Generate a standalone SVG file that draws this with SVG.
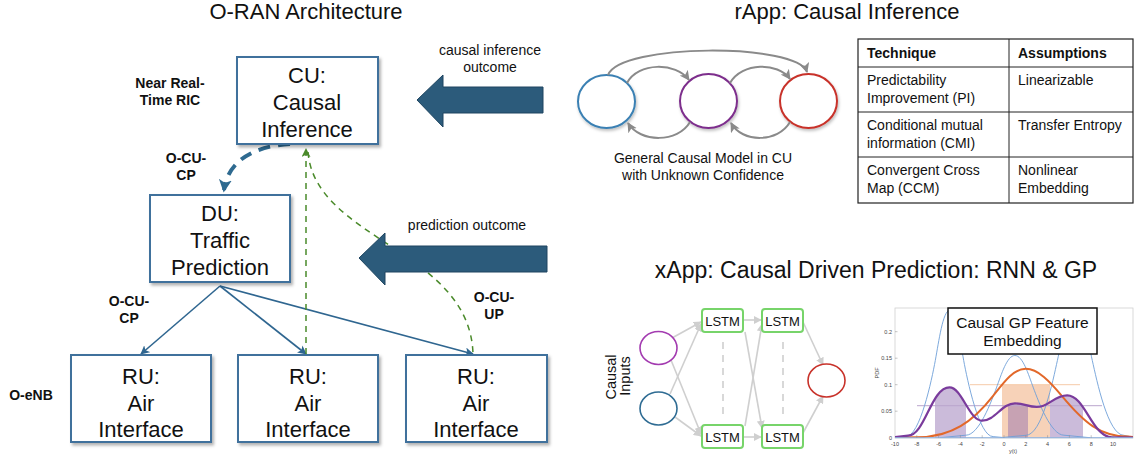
<svg xmlns="http://www.w3.org/2000/svg" width="1135" height="456" viewBox="0 0 1135 456">
<style>
text{font-family:"Liberation Sans",Arial,sans-serif;fill:#111}
.title{font-size:22px;text-anchor:middle}
.box{fill:#fff;stroke:#41719c;stroke-width:2}
.bt{font-size:22px;text-anchor:middle}
.lab{font-size:14px;font-weight:bold;text-anchor:middle}
.sm{font-size:14px;text-anchor:middle}
.tb{font-size:14px}
.tbh{font-size:14px;font-weight:bold}
.big{fill:#2c5b7b;stroke:#1e4560;stroke-width:1}
.conn{fill:none;stroke:#2f6690;stroke-width:1.6}
.gd{fill:none;stroke:#4a8a2a;stroke-width:1.5;stroke-dasharray:6 5}
.gr{fill:none;stroke:#8a8a8a;stroke-width:2}
.lt{fill:none;stroke:#cfcfcf;stroke-width:1.6}
.lstm{fill:#fff;stroke:#77d46a;stroke-width:2}
.lstmt{font-size:13px;text-anchor:middle}
.tick{font-size:5.5px;fill:#444}
</style>
<defs>
<filter id="sh" x="-10%" y="-10%" width="130%" height="130%"><feDropShadow dx="2" dy="2.5" stdDeviation="1.5" flood-color="#000" flood-opacity="0.3"/></filter>
<filter id="sh2" x="-20%" y="-20%" width="150%" height="150%"><feDropShadow dx="1" dy="2" stdDeviation="1.5" flood-color="#000" flood-opacity="0.25"/></filter>
<marker id="aB" viewBox="0 0 10 10" refX="9" refY="5" markerWidth="9" markerHeight="9" markerUnits="userSpaceOnUse" orient="auto"><path d="M0,0 L10,5 L0,10 L2.5,5 z" fill="#2f6690"/></marker>
<marker id="aBD" viewBox="0 0 10 10" refX="8" refY="5" markerWidth="13" markerHeight="13" markerUnits="userSpaceOnUse" orient="auto"><path d="M0,0 L10,5 L0,10 L2.5,5 z" fill="#2e6a90"/></marker>
<marker id="aG" viewBox="0 0 10 10" refX="9" refY="5" markerWidth="9" markerHeight="9" markerUnits="userSpaceOnUse" orient="auto"><path d="M0,0 L10,5 L0,10 L2.5,5 z" fill="#4a8a2a"/></marker>
<marker id="aY" viewBox="0 0 10 10" refX="9" refY="5" markerWidth="10" markerHeight="10" markerUnits="userSpaceOnUse" orient="auto"><path d="M0,0 L10,5 L0,10 L2.5,5 z" fill="#8a8a8a"/></marker>
<marker id="aL" viewBox="0 0 10 10" refX="9" refY="5" markerWidth="8" markerHeight="8" markerUnits="userSpaceOnUse" orient="auto"><path d="M0,0 L10,5 L0,10 z" fill="#cfcfcf"/></marker>
<clipPath id="plot"><rect x="895" y="308" width="238" height="130"/></clipPath>
<clipPath id="purpArea"><path d="M895,437.7 L895,437.2 L908,435.6 C925,435.6 931,387.4 949.5,387.4 C962,387.4 969,420.7 982.2,420.7 C995,420.7 1002,403.3 1014.9,403.3 C1024,403.3 1028,407 1036.7,407 C1049,407 1054,395.3 1067.2,395.3 C1085,395.3 1092,437 1112,437.4 L1134,437.7 Z"/></clipPath>
</defs>

<!-- Titles -->
<text class="title" x="306" y="19">O-RAN Architecture</text>
<text class="title" x="847" y="19">rApp: Causal Inference</text>
<text class="title" x="876" y="278" style="font-size:23px">xApp: Causal Driven Prediction: RNN &amp; GP</text>

<!-- Side labels -->
<g id="labels">
<text class="lab" x="170" y="88">Near Real-</text>
<text class="lab" x="170" y="105">Time RIC</text>
<text class="lab" x="186" y="163">O-CU-</text>
<text class="lab" x="186" y="180">CP</text>
<text class="lab" x="129" y="306">O-CU-</text>
<text class="lab" x="129" y="323">CP</text>
<text class="lab" x="494" y="302">O-CU-</text>
<text class="lab" x="494" y="319">UP</text>
<text class="lab" x="31" y="400">O-eNB</text>
</g>

<!-- Connectors -->
<g id="connectors">
<path class="conn" d="M220,286 L141,354" marker-end="url(#aB)"/>
<path class="conn" d="M220,286 L306,354" marker-end="url(#aB)"/>
<path class="conn" d="M220,286 L473,354" marker-end="url(#aB)"/>
<path d="M290,144 C255,146 228,160 224,190" fill="none" stroke="#2e6a90" stroke-width="4" stroke-dasharray="12 8" marker-end="url(#aBD)"/>
<path class="gd" d="M306,354 L306,149" marker-end="url(#aG)"/>
<path class="gd" d="M308,152 C315,240 470,250 473,354"/>
</g>

<!-- Big arrows -->
<g id="arrow-causal">
<polygon class="big" points="417,100 443,75 443,87 543,87 543,113 443,113 443,127"/>
<text class="sm" x="490" y="55">causal inference</text>
<text class="sm" x="490" y="72">outcome</text>
</g>
<g id="arrow-pred">
<polygon class="big" points="359,258 385,233 385,246 547,246 547,272 385,272 385,285"/>
<text class="sm" x="467" y="230">prediction outcome</text>
</g>

<!-- Nodes -->
<g id="cu">
<rect class="box" x="237" y="57" width="141" height="87" filter="url(#sh)"/>
<text class="bt" x="307" y="83">CU:</text>
<text class="bt" x="307" y="110">Causal</text>
<text class="bt" x="307" y="137">Inference</text>
</g>
<g id="du">
<rect class="box" x="150" y="195" width="140" height="87" filter="url(#sh)"/>
<text class="bt" x="220" y="221">DU:</text>
<text class="bt" x="220" y="248">Traffic</text>
<text class="bt" x="220" y="275">Prediction</text>
</g>
<g id="ru1">
<rect class="box" x="71" y="355" width="140" height="87" filter="url(#sh)"/>
<text class="bt" x="141" y="384">RU:</text>
<text class="bt" x="141" y="411">Air</text>
<text class="bt" x="141" y="437">Interface</text>
</g>
<g id="ru2">
<rect class="box" x="238" y="355" width="140" height="87" filter="url(#sh)"/>
<text class="bt" x="308" y="384">RU:</text>
<text class="bt" x="308" y="411">Air</text>
<text class="bt" x="308" y="437">Interface</text>
</g>
<g id="ru3">
<rect class="box" x="406" y="355" width="141" height="87" filter="url(#sh)"/>
<text class="bt" x="476" y="384">RU:</text>
<text class="bt" x="476" y="411">Air</text>
<text class="bt" x="476" y="437">Interface</text>
</g>

<!-- rApp causal model -->
<g id="rapp-graph">
<ellipse cx="606.5" cy="101.5" rx="28.5" ry="26.5" fill="#fff" stroke="#3a80b3" stroke-width="2" filter="url(#sh2)"/>
<ellipse cx="708.5" cy="101" rx="28.5" ry="27" fill="#fff" stroke="#7d2e8c" stroke-width="2" filter="url(#sh2)"/>
<ellipse cx="808.5" cy="101" rx="28.5" ry="27" fill="#fff" stroke="#c8322a" stroke-width="2" filter="url(#sh2)"/>
<path class="gr" d="M608,75 C620,43 798,43 807,72" marker-end="url(#aY)"/>
<path class="gr" d="M627,83 C638,62 676,62 689,80" marker-end="url(#aY)"/>
<path class="gr" d="M730,83 C742,62 778,62 790,79" marker-end="url(#aY)"/>
<path class="gr" d="M690,122 C678,143 640,143 628,123" marker-end="url(#aY)"/>
<path class="gr" d="M790,122 C778,143 742,143 731,123" marker-end="url(#aY)"/>
<text class="sm" x="703" y="163">General Causal Model in CU</text>
<text class="sm" x="703" y="180">with Unknown Confidence</text>
</g>

<!-- Table -->
<g id="table">
<rect x="858" y="39" width="275" height="164" fill="#fff" stroke="#222" stroke-width="1.2"/>
<line x1="1009" y1="39" x2="1009" y2="203" stroke="#222" stroke-width="1"/>
<line x1="858" y1="67" x2="1133" y2="67" stroke="#222" stroke-width="1"/>
<line x1="858" y1="112" x2="1133" y2="112" stroke="#222" stroke-width="1"/>
<line x1="858" y1="157" x2="1133" y2="157" stroke="#222" stroke-width="1"/>
<text class="tbh" x="867" y="58">Technique</text>
<text class="tbh" x="1018" y="58">Assumptions</text>
<text class="tb" x="867" y="85">Predictability</text>
<text class="tb" x="867" y="103">Improvement (PI)</text>
<text class="tb" x="1018" y="85">Linearizable</text>
<text class="tb" x="867" y="130">Conditional mutual</text>
<text class="tb" x="867" y="148">information (CMI)</text>
<text class="tb" x="1018" y="130">Transfer Entropy</text>
<text class="tb" x="867" y="175">Convergent Cross</text>
<text class="tb" x="867" y="193">Map (CCM)</text>
<text class="tb" x="1018" y="175">Nonlinear</text>
<text class="tb" x="1018" y="193">Embedding</text>
</g>

<!-- xApp LSTM network -->
<g id="lstm-net">
<line x1="723" y1="342" x2="723" y2="417" stroke="#cfcfcf" stroke-width="1.6" stroke-dasharray="7 6"/>
<line x1="783" y1="342" x2="783" y2="417" stroke="#cfcfcf" stroke-width="1.6" stroke-dasharray="7 6"/>
<path class="lt" d="M672,338 L701,322" marker-end="url(#aL)"/>
<path class="lt" d="M671,360 L701,434" marker-end="url(#aL)"/>
<path class="lt" d="M670,394 L701,324" marker-end="url(#aL)"/>
<path class="lt" d="M675,417 L701,436" marker-end="url(#aL)"/>
<path class="lt" d="M743,320 L761,320" marker-end="url(#aL)"/>
<path class="lt" d="M745,332 L762,428" marker-end="url(#aL)"/>
<path class="lt" d="M745,426 L762,324" marker-end="url(#aL)"/>
<path class="lt" d="M743,437 L761,437" marker-end="url(#aL)"/>
<path class="lt" d="M803,322 L823,365" marker-end="url(#aL)"/>
<path class="lt" d="M803,433 L823,396" marker-end="url(#aL)"/>
<ellipse cx="658.5" cy="348" rx="18.5" ry="16.5" fill="#fff" stroke="#a33bb0" stroke-width="1.6"/>
<ellipse cx="658.5" cy="408.5" rx="18.5" ry="16.5" fill="#fff" stroke="#2f6c93" stroke-width="1.6"/>
<ellipse cx="826.5" cy="380.5" rx="18.5" ry="16.5" fill="#fff" stroke="#c8322a" stroke-width="1.6"/>
<rect class="lstm" x="702" y="309" width="41" height="23" rx="3"/>
<text class="lstmt" x="722.5" y="325.5">LSTM</text>
<rect class="lstm" x="762" y="309" width="41" height="23" rx="3"/>
<text class="lstmt" x="782.5" y="325.5">LSTM</text>
<rect class="lstm" x="702" y="425" width="41" height="23" rx="3"/>
<text class="lstmt" x="722.5" y="441.5">LSTM</text>
<rect class="lstm" x="762" y="425" width="41" height="23" rx="3"/>
<text class="lstmt" x="782.5" y="441.5">LSTM</text>
<text font-size="14.5" text-anchor="middle" transform="translate(616,377) rotate(-90)">Causal</text>
<text font-size="14.5" text-anchor="middle" transform="translate(630,376) rotate(-90)">Inputs</text>
</g>

<!-- GP plot -->
<g id="gp-plot">
<rect x="895" y="308" width="238" height="130" fill="#fff" stroke="#d0d0d0" stroke-width="0.8"/>
<g clip-path="url(#plot)">
<rect x="1002" y="384.7" width="48" height="53" fill="#f2b489" fill-opacity="0.6"/>
<g clip-path="url(#purpArea)" fill="#8c68ad" fill-opacity="0.45">
<rect x="935" y="370" width="31" height="68"/>
<rect x="1008" y="370" width="20" height="68"/>
<rect x="1050" y="370" width="33" height="68"/>
</g>
<line x1="970" y1="384.7" x2="1080" y2="384.7" stroke="#f6cba8" stroke-width="1"/>
<line x1="917" y1="405.7" x2="1102" y2="405.7" stroke="#bba6cd" stroke-width="1"/>
<path fill="none" stroke="#6e9fd8" stroke-width="0.9" d="M895,437.6 L905.9,436.6 C919.9,436.6 931.8,379.5 935.3,360.5 C938.8,341.4 943,310.5 949.5,310.5 C956,310.5 960.2,341.4 963.7,360.5 C967.2,379.5 979,436.6 993.1,436.6 L1004,437.6"/>
<path fill="none" stroke="#6e9fd8" stroke-width="0.9" d="M940,437.7 L965.9,435.2 C979,435.2 991.4,401.3 996.4,387.9 C1001.4,374.4 1007,355.5 1014.9,355.5 C1022.8,355.5 1028.4,374.4 1033.4,387.9 C1038.4,401.3 1051,435.2 1064,435.2 L1090,437.7"/>
<path fill="none" stroke="#6e9fd8" stroke-width="0.9" d="M1000,437.7 L1025.8,435.3 C1042,435.3 1053,380 1057.4,360.5 C1061.8,341 1066.5,310.5 1074.9,310.5 C1083.3,310.5 1088,341 1092.3,360.5 C1096.7,380 1108,435.3 1123.9,435.3 L1135,437.7"/>
<path fill="none" stroke="#e2682a" stroke-width="2" d="M895,437.6 L916.8,437.2 C951.8,437.2 973.1,421.4 993.1,395.8 C1005.1,380.4 1013.8,368.8 1025.8,368.8 C1038,368.8 1049.8,381.4 1061.8,395.8 C1083.8,422.2 1100,436.5 1128,436.5 L1135,437.2"/>
<path fill="none" stroke="#7a3b9c" stroke-width="2.2" d="M895,437.2 L908,435.6 C925,435.6 931,387.4 949.5,387.4 C962,387.4 969,420.7 982.2,420.7 C995,420.7 1002,403.3 1014.9,403.3 C1024,403.3 1028,407 1036.7,407 C1049,407 1054,395.3 1067.2,395.3 C1085,395.3 1092,437 1112,437.4 L1134,437.7"/>
</g>
<line x1="895" y1="437.7" x2="1133" y2="437.7" stroke="#8fb3df" stroke-width="1"/>
<g stroke="#888" stroke-width="0.5">
<line x1="895" y1="331.7" x2="897.5" y2="331.7"/><line x1="895" y1="358.2" x2="897.5" y2="358.2"/><line x1="895" y1="384.7" x2="897.5" y2="384.7"/><line x1="895" y1="411.2" x2="897.5" y2="411.2"/>
<line x1="916.8" y1="437.7" x2="916.8" y2="435.2"/><line x1="938.6" y1="437.7" x2="938.6" y2="435.2"/><line x1="960.4" y1="437.7" x2="960.4" y2="435.2"/><line x1="982.2" y1="437.7" x2="982.2" y2="435.2"/><line x1="1004" y1="437.7" x2="1004" y2="435.2"/><line x1="1025.8" y1="437.7" x2="1025.8" y2="435.2"/><line x1="1047.6" y1="437.7" x2="1047.6" y2="435.2"/><line x1="1069.4" y1="437.7" x2="1069.4" y2="435.2"/><line x1="1091.2" y1="437.7" x2="1091.2" y2="435.2"/><line x1="1113" y1="437.7" x2="1113" y2="435.2"/>
</g>
<g text-anchor="end">
<text class="tick" x="892" y="333.5">0.2</text>
<text class="tick" x="892" y="360">0.15</text>
<text class="tick" x="892" y="386.5">0.1</text>
<text class="tick" x="892" y="413">0.05</text>
<text class="tick" x="892" y="439.5">0</text>
</g>
<g text-anchor="middle">
<text class="tick" x="895" y="446">-10</text>
<text class="tick" x="916.8" y="446">-8</text>
<text class="tick" x="938.6" y="446">-6</text>
<text class="tick" x="960.4" y="446">-4</text>
<text class="tick" x="982.2" y="446">-2</text>
<text class="tick" x="1004" y="446">0</text>
<text class="tick" x="1025.8" y="446">2</text>
<text class="tick" x="1047.6" y="446">4</text>
<text class="tick" x="1069.4" y="446">6</text>
<text class="tick" x="1091.2" y="446">8</text>
<text class="tick" x="1113" y="446">10</text>
<text class="tick" x="1013" y="453">y(t)</text>
<text class="tick" transform="translate(879,373) rotate(-90)">PDF</text>
</g>
<rect x="948" y="308" width="149" height="46" fill="#fff" stroke="#111" stroke-width="1.5"/>
<text font-size="15.5" text-anchor="middle" x="1022.5" y="328">Causal GP Feature</text>
<text font-size="15.5" text-anchor="middle" x="1022.5" y="346">Embedding</text>
</g>
</svg>
